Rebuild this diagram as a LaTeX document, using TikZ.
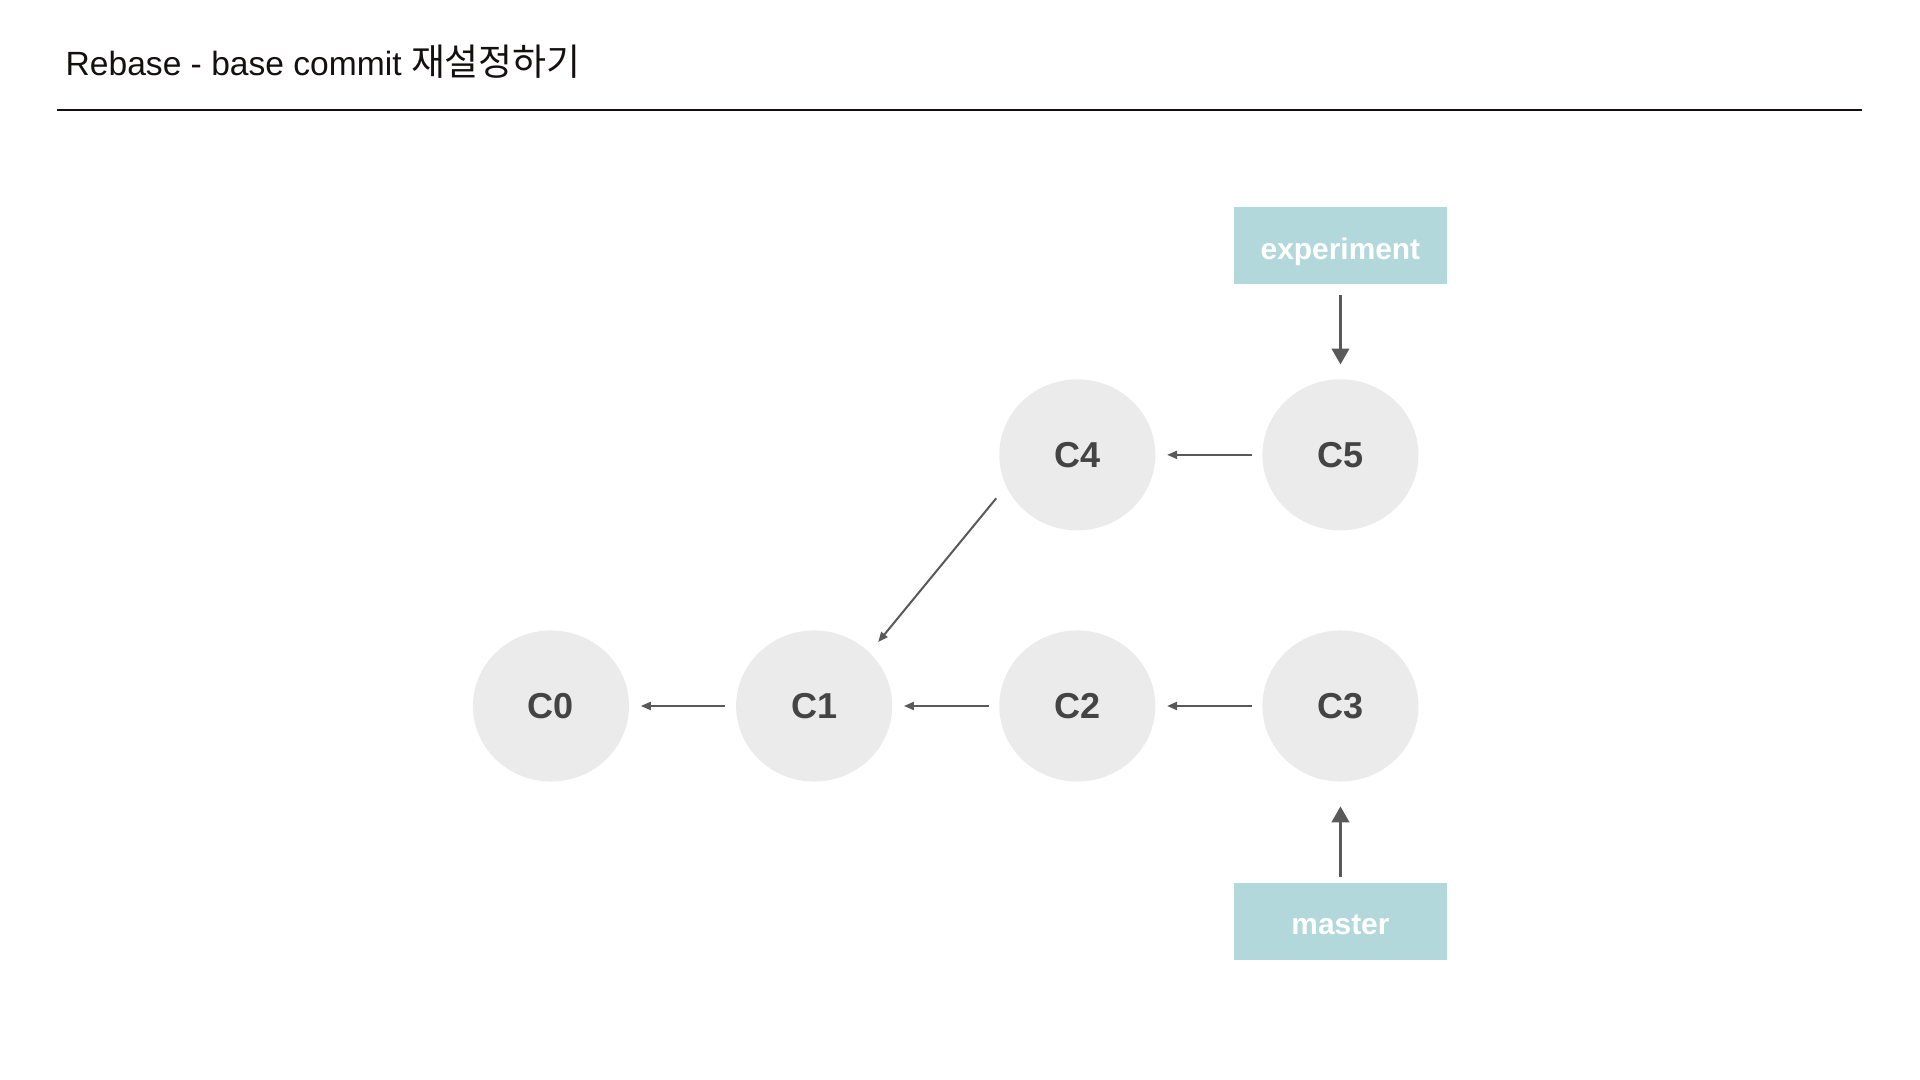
\documentclass[tikz,border=0pt]{standalone}
\usepackage{fontspec}
\setmainfont{Liberation Sans}
\newfontfamily\krfont{Noto Sans CJK KR}
\usetikzlibrary{shapes.geometric, arrows.meta}
\definecolor{commitfill}{HTML}{EBEBEB}
\definecolor{committext}{HTML}{444444}
\definecolor{branchfill}{HTML}{B2D8DB}
\definecolor{arrowgray}{HTML}{595959}
\definecolor{titleblack}{HTML}{141010}

\tikzset{
  commit/.style = {ellipse, fill=commitfill, text=committext, minimum width=1.56cm, minimum height=1.51cm, inner sep=0pt, font=\fontsize{10.25}{12}\selectfont\bfseries},
  branch/.style = {rectangle, fill=branchfill, text=white, minimum width=2.13cm, minimum height=0.77cm, inner sep=0pt, text height=0.78em, text depth=0pt, font=\fontsize{8.5}{10}\selectfont\bfseries},
  parent/.style = {draw=arrowgray, line width=0.57pt, -{Triangle[length=0.1cm, width=0.08cm]}, shorten <=0.1cm, shorten >=0.11cm},
  pointer/.style = {draw=arrowgray, line width=1.05pt, -{Triangle[length=0.16cm, width=0.17cm]}},
}

\begin{document}
\begin{tikzpicture}[x=0.01cm, y=-0.01cm, node distance = 2.63cm]
    \useasboundingbox (0,0) rectangle (1920,1080);
    \node (title) [anchor=base west, inner sep=0pt, text=titleblack, font=\fontsize{9.55}{11}\selectfont] at (65,76) {Rebase - base commit {\krfont\fontsize{10.5}{11}\selectfont 재설정하기}};
    \coordinate (rule west) at (57,110);
    \coordinate (rule east) at (1862,110);
    \draw [line width=0.57pt, titleblack] (rule west) -- (rule east);
    \node (c0) [commit] at (551,706) {C0};
    \node (c1) [commit, right of = c0] {C1} edge [parent] (c0);
    \node (c2) [commit, right of = c1] {C2} edge [parent] (c1);
    \node (c3) [commit, right of = c2] {C3} edge [parent] (c2);
    \node (c4) [commit, above of = c2, node distance = 2.51cm] {C4};
    \node (c5) [commit, right of = c4] {C5} edge [parent] (c4);
    \path (c4.204) edge [parent, shorten <=0.15cm, shorten >=0.13cm] (c1.44);
    \node (experiment) [branch, above of = c5, node distance = 2.09cm] {experiment} edge [pointer, shorten <=0.1cm, shorten >=0.14cm] (c5);
    \node (master) [branch, below of = c3, node distance = 2.15cm] {master} edge [pointer, shorten <=0.05cm, shorten >=0.24cm] (c3);
\end{tikzpicture}
\end{document}
